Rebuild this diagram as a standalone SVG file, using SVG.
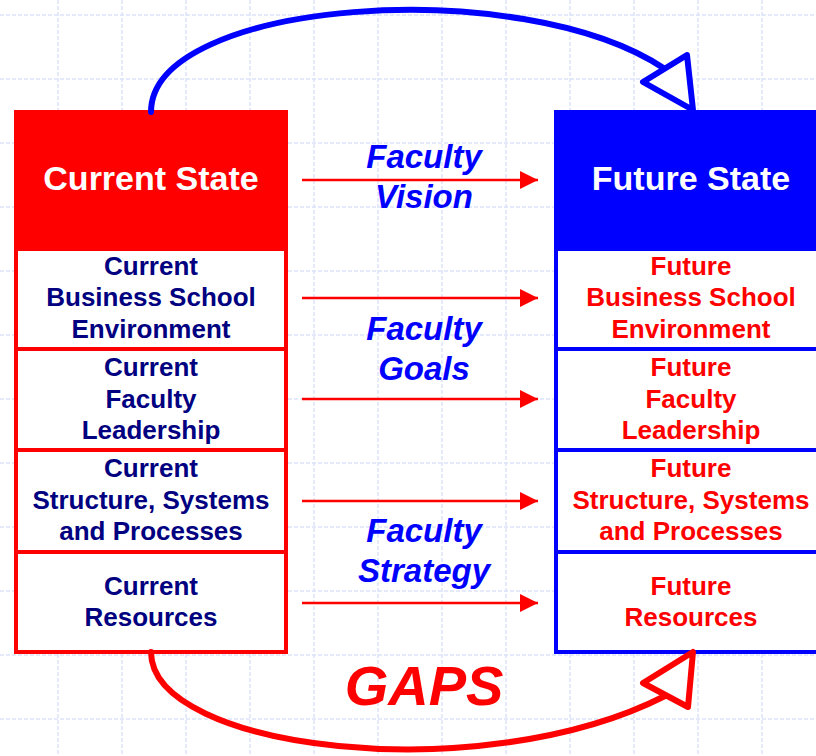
<svg xmlns="http://www.w3.org/2000/svg" width="816" height="756" viewBox="0 0 816 756">
<defs>
<style>
.grid line{stroke:#dce4f9;stroke-width:1.5;stroke-dasharray:4 2}
.t{font-family:"Liberation Sans",Arial,sans-serif;font-weight:bold;text-anchor:middle}
.cur{fill:#000080;font-size:26px}
.fut{fill:#ff0000;font-size:26px}
.hd{fill:#ffffff;font-size:34px}
.lbl{fill:#0000ff;font-size:33px;font-style:italic}
.gap{fill:#ff0000;font-size:56px;font-style:italic}
.arr{stroke:#ff0000;stroke-width:2.5;fill:none;marker-end:url(#ah)}
</style>
<marker id="ah" markerUnits="userSpaceOnUse" markerWidth="20" markerHeight="20" refX="18" refY="9" orient="auto">
<path d="M0,0 L18,9 L0,18 Z" fill="#ff0000"/>
</marker>
</defs>
<rect width="816" height="756" fill="#ffffff"/>
<g class="grid">
<line x1="58" y1="0" x2="58" y2="756"/><line x1="122" y1="0" x2="122" y2="756"/><line x1="186" y1="0" x2="186" y2="756"/><line x1="250" y1="0" x2="250" y2="756"/><line x1="314" y1="0" x2="314" y2="756"/><line x1="378" y1="0" x2="378" y2="756"/><line x1="442" y1="0" x2="442" y2="756"/><line x1="506" y1="0" x2="506" y2="756"/><line x1="570" y1="0" x2="570" y2="756"/><line x1="634" y1="0" x2="634" y2="756"/><line x1="698" y1="0" x2="698" y2="756"/><line x1="762" y1="0" x2="762" y2="756"/>
<line x1="0" y1="15" x2="816" y2="15"/><line x1="0" y1="79" x2="816" y2="79"/><line x1="0" y1="143" x2="816" y2="143"/><line x1="0" y1="207" x2="816" y2="207"/><line x1="0" y1="271" x2="816" y2="271"/><line x1="0" y1="335" x2="816" y2="335"/><line x1="0" y1="399" x2="816" y2="399"/><line x1="0" y1="463" x2="816" y2="463"/><line x1="0" y1="527" x2="816" y2="527"/><line x1="0" y1="591" x2="816" y2="591"/><line x1="0" y1="655" x2="816" y2="655"/><line x1="0" y1="719" x2="816" y2="719"/>
</g>
<g id="current-state">
<rect x="14" y="110" width="273" height="139" fill="#ff0000"/>
<rect x="16" y="249" width="270" height="403" fill="#ffffff" stroke="#ff0000" stroke-width="4"/>
<rect x="16" y="112" width="270" height="540" fill="none" stroke="#ff0000" stroke-width="4"/>
<line x1="14" y1="349" x2="287" y2="349" stroke="#ff0000" stroke-width="4"/>
<line x1="14" y1="450" x2="287" y2="450" stroke="#ff0000" stroke-width="4"/>
<line x1="14" y1="552" x2="287" y2="552" stroke="#ff0000" stroke-width="4"/>
<text class="t hd" x="151" y="190">Current State</text>
<text class="t cur" x="151" y="275">Current</text>
<text class="t cur" x="151" y="306">Business School</text>
<text class="t cur" x="151" y="338">Environment</text>
<text class="t cur" x="151" y="376">Current</text>
<text class="t cur" x="151" y="408">Faculty</text>
<text class="t cur" x="151" y="439">Leadership</text>
<text class="t cur" x="151" y="477">Current</text>
<text class="t cur" x="151" y="509">Structure, Systems</text>
<text class="t cur" x="151" y="540">and Processes</text>
<text class="t cur" x="151" y="595">Current</text>
<text class="t cur" x="151" y="626">Resources</text>
</g>
<g id="future-state">
<rect x="554" y="110" width="280" height="139" fill="#0000ff"/>
<rect x="556" y="249" width="280" height="403" fill="#ffffff" stroke="#0000ff" stroke-width="4"/>
<rect x="556" y="112" width="280" height="540" fill="none" stroke="#0000ff" stroke-width="4"/>
<line x1="554" y1="349" x2="836" y2="349" stroke="#0000ff" stroke-width="4"/>
<line x1="554" y1="450" x2="836" y2="450" stroke="#0000ff" stroke-width="4"/>
<line x1="554" y1="552" x2="836" y2="552" stroke="#0000ff" stroke-width="4"/>
<text class="t hd" x="691" y="190">Future State</text>
<text class="t fut" x="691" y="275">Future</text>
<text class="t fut" x="691" y="306">Business School</text>
<text class="t fut" x="691" y="338">Environment</text>
<text class="t fut" x="691" y="376">Future</text>
<text class="t fut" x="691" y="408">Faculty</text>
<text class="t fut" x="691" y="439">Leadership</text>
<text class="t fut" x="691" y="477">Future</text>
<text class="t fut" x="691" y="509">Structure, Systems</text>
<text class="t fut" x="691" y="540">and Processes</text>
<text class="t fut" x="691" y="595">Future</text>
<text class="t fut" x="691" y="626">Resources</text>
</g>
<g id="connectors">
<line class="arr" x1="302" y1="180" x2="538" y2="180"/>
<line class="arr" x1="302" y1="298" x2="538" y2="298"/>
<line class="arr" x1="302" y1="399" x2="538" y2="399"/>
<line class="arr" x1="302" y1="501" x2="538" y2="501"/>
<line class="arr" x1="302" y1="603" x2="538" y2="603"/>
<path d="M151,112 C151,0 520,-28 665,69" fill="none" stroke="#0000ff" stroke-width="6" stroke-linecap="round"/>
<polygon points="687,55 643,82 693,110" fill="#ffffff" stroke="#0000ff" stroke-width="6" stroke-linejoin="round"/>
<path d="M151,652 C151,750 480,790 665,696" fill="none" stroke="#ff0000" stroke-width="6" stroke-linecap="round"/>
<polygon points="688,707 643,683 693,652" fill="#ffffff" stroke="#ff0000" stroke-width="6" stroke-linejoin="round"/>
</g>
<g id="labels">
<text class="t lbl" x="424" y="168">Faculty</text>
<text class="t lbl" x="424" y="208">Vision</text>
<text class="t lbl" x="424" y="340">Faculty</text>
<text class="t lbl" x="424" y="380">Goals</text>
<text class="t lbl" x="424" y="542">Faculty</text>
<text class="t lbl" x="424" y="582">Strategy</text>
<text class="t gap" x="424" y="705">GAPS</text>
</g>
</svg>
